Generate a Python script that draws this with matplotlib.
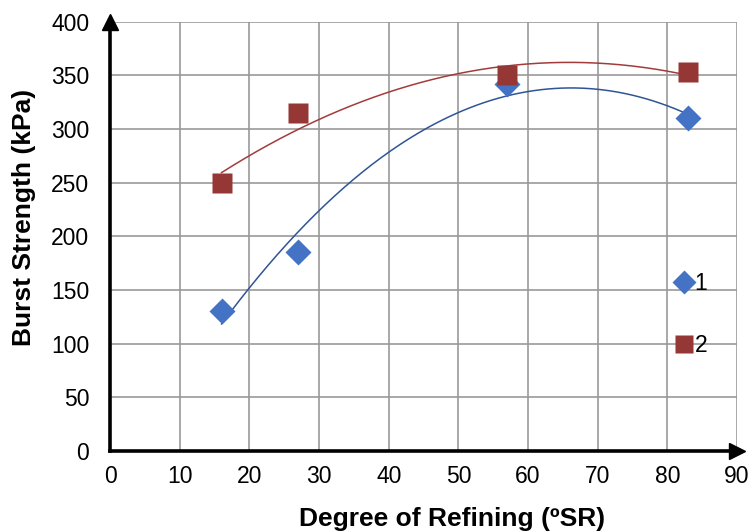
import numpy as np
import matplotlib.pyplot as plt

# data
refining = [16, 27, 57, 83]
burst_1 = [130, 185, 342, 310]
burst_2 = [250, 315, 350, 353]
x_ticks = [0, 10, 20, 30, 40, 50, 60, 70, 80, 90]
y_ticks = [0, 50, 100, 150, 200, 250, 300, 350, 400]

plt.rcParams['font.family'] = ['Liberation Sans', 'DejaVu Sans']

fig = plt.figure(figsize=(7.49, 5.31), dpi=100)
ax = fig.add_axes([0.147, 0.151, 0.837, 0.808])

# 2nd order polynomial trendlines
xs = np.linspace(min(refining), max(refining), 200)
fit1 = np.polyfit(refining, burst_1, 2)
fit2 = np.polyfit(refining, burst_2, 2)
ax.plot(xs, np.polyval(fit1, xs), color='#2F5597', lw=1.1, zorder=3)
ax.plot(xs, np.polyval(fit2, xs), color='#A33B3B', lw=1.1, zorder=3)

ax.plot(refining, burst_1, 'D', color='#4472C4', ms=13, mec='none', label='1', zorder=4)
ax.plot(refining, burst_2, 's', color='#953735', ms=14, mec='none', label='2', zorder=5)

ax.set_xlim(0, 90)
ax.set_ylim(0, 400)
ax.set_xticks(x_ticks)
ax.set_yticks(y_ticks)
ax.grid(True, color='#999999', lw=1.2)
ax.set_axisbelow(True)
ax.tick_params(length=0, labelsize=16.5)
ax.tick_params(axis='x', pad=10)
ax.tick_params(axis='y', pad=15)

for s in ['top', 'right']:
    ax.spines[s].set_visible(False)
for s in ['left', 'bottom']:
    ax.spines[s].set_linewidth(2.6)
    ax.spines[s].set_zorder(6)

# arrow heads
ax.plot(1, 0, '>k', ms=12, transform=ax.transAxes, clip_on=False, zorder=7)
ax.plot(0, 1, '^k', ms=12, transform=ax.transAxes, clip_on=False, zorder=7)

ax.set_xlabel('Degree of Refining (ºSR)', fontsize=19, fontweight='bold', labelpad=14)
ax.set_ylabel('Burst Strength (kPa)', fontsize=19, fontweight='bold', labelpad=11)
ax.xaxis.label.set_x(0.545)
ax.yaxis.label.set_y(0.545)

leg = ax.legend(loc='center left', bbox_to_anchor=(0.872, 0.317), frameon=False,
                fontsize=16.5, handlelength=0.6, handletextpad=0.15,
                labelspacing=1.7, markerscale=0.92)

fig.savefig('out.png', dpi=100)
